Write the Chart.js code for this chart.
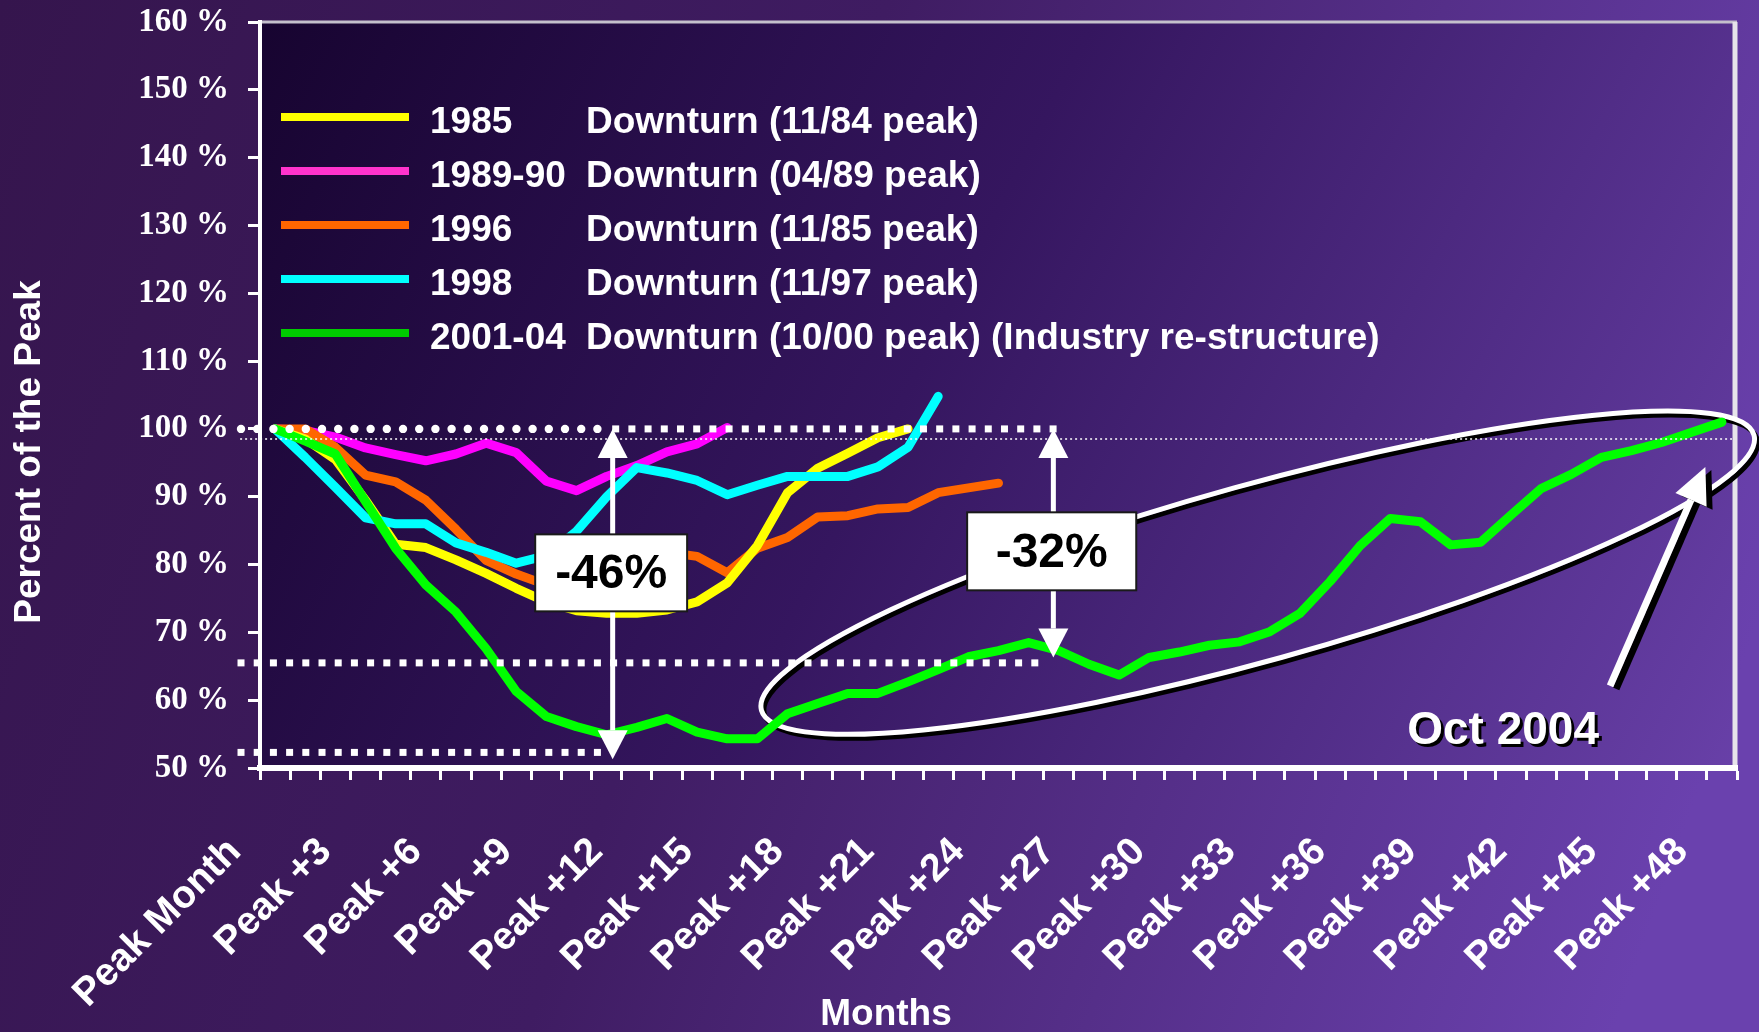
<!DOCTYPE html>
<html>
<head>
<meta charset="utf-8">
<title>Downturns - Percent of the Peak</title>
<script src="https://cdn.jsdelivr.net/npm/chart.js@4.4.1/dist/chart.umd.min.js"></script>
<style>
  html, body { margin: 0; padding: 0; background: #37174f; }
  #wrap { width: 1759px; height: 1032px; }
</style>
</head>
<body>
<div id="wrap"><canvas id="myChart" width="1759" height="1032"></canvas></div>
<script>
// months after the peak (one category per month)
const months = [
  'Peak Month', 'Peak +1', 'Peak +2', 'Peak +3', 'Peak +4', 'Peak +5', 'Peak +6', 'Peak +7',
  'Peak +8', 'Peak +9', 'Peak +10', 'Peak +11', 'Peak +12', 'Peak +13', 'Peak +14', 'Peak +15',
  'Peak +16', 'Peak +17', 'Peak +18', 'Peak +19', 'Peak +20', 'Peak +21', 'Peak +22', 'Peak +23',
  'Peak +24', 'Peak +25', 'Peak +26', 'Peak +27', 'Peak +28', 'Peak +29', 'Peak +30', 'Peak +31',
  'Peak +32', 'Peak +33', 'Peak +34', 'Peak +35', 'Peak +36', 'Peak +37', 'Peak +38', 'Peak +39',
  'Peak +40', 'Peak +41', 'Peak +42', 'Peak +43', 'Peak +44', 'Peak +45', 'Peak +46', 'Peak +47',
  'Peak +48'
];
// only every third month gets a label
const tickLabels = [
  'Peak Month', 'Peak +3', 'Peak +6', 'Peak +9', 'Peak +12', 'Peak +15', 'Peak +18', 'Peak +21',
  'Peak +24', 'Peak +27', 'Peak +30', 'Peak +33', 'Peak +36', 'Peak +39', 'Peak +42', 'Peak +45',
  'Peak +48'
];

const seriesYears = ['1985', '1989-90', '1996', '1998', '2001-04'];
const seriesNotes = [
  'Downturn (11/84 peak)',
  'Downturn (04/89 peak)',
  'Downturn (11/85 peak)',
  'Downturn (11/97 peak)',
  'Downturn (10/00 peak) (Industry re-structure)'
];

// percent of the peak, month by month
const d1985 = [100, 98.5, 95.5, 89.5, 83.0, 82.5, 80.7, 78.7, 76.5, 74.5, 73.2, 72.8, 72.8, 73.3,
  74.5, 77.3, 82.8, 90.6, 94.2, 96.4, 98.7, 100];
const d1989 = [100, 99.8, 98.8, 97.2, 96.2, 95.3, 96.3, 97.9, 96.5, 92.3, 90.9, 93.0, 94.6, 96.6,
  97.8, 100.2];
const d1996 = [100, 100, 97.3, 93.2, 92.2, 89.5, 85.2, 80.6, 78.6, 77.0, 76.0, 77.5, 79.5, 81.8,
  81.2, 78.8, 82.4, 84.0, 87.0, 87.2, 88.2, 88.4, 90.6, 91.3, 92.0];
const d1998 = [100, 95.8, 91.4, 86.9, 86.0, 86.0, 83.2, 81.8, 80.2, 81.3, 84.9, 90.0, 94.3, 93.5,
  92.4, 90.3, 91.7, 93.0, 93.0, 93.0, 94.4, 97.3, 104.8];
const d2001 = [100, 98.2, 96.3, 89.3, 82.4, 77.0, 73.0, 67.6, 61.3, 57.6, 56.1, 54.9, 56.0, 57.3,
  55.3, 54.3, 54.3, 58.0, 59.5, 61.0, 61.0, 62.7, 64.5, 66.4, 67.3, 68.5, 67.3, 65.3, 63.7, 66.3,
  67.1, 68.1, 68.6, 70.1, 72.8, 77.5, 82.8, 86.8, 86.3, 82.9, 83.3, 87.3, 91.2, 93.3, 95.8, 96.8,
  98.0, 99.5, 101.0];

const seriesColors = ['#ffff00', '#ff00ff', '#ff6600', '#00ffff', '#00ff00'];
const legendColors = ['#ffff00', '#ff33cc', '#ff6600', '#00ffff', '#00cc00'];
const drawOrder = [2, 4, 3, 1, 0];

const SANS = "'Liberation Sans', Arial, sans-serif";
const SERIF = "'Liberation Serif', 'Times New Roman', serif";

// background: page and plot area
const backdrop = {
  id: 'backdrop',
  beforeDraw(chart) {
    const { ctx, width, height, chartArea: a } = chart;
    ctx.save();
    let g = ctx.createLinearGradient(0, 0, width, height * 0.6);
    g.addColorStop(0, '#35154d');
    g.addColorStop(0.45, '#3f1c62');
    g.addColorStop(1, '#6a41ae');
    ctx.fillStyle = g;
    ctx.fillRect(0, 0, width, height);

    g = ctx.createLinearGradient(a.left, a.top, a.right, a.bottom);
    g.addColorStop(0, '#170430');
    g.addColorStop(0.45, '#35165f');
    g.addColorStop(1, '#6840a8');
    ctx.fillStyle = g;
    ctx.fillRect(a.left, a.top, a.right - a.left, a.bottom - a.top);

    // frame top and right
    ctx.strokeStyle = '#c4c0cc';
    ctx.lineWidth = 3;
    ctx.beginPath();
    ctx.moveTo(a.left, a.top);
    ctx.lineTo(a.right, a.top);
    ctx.stroke();
    ctx.strokeStyle = '#e6e4ea';
    ctx.lineWidth = 5;
    ctx.beginPath();
    ctx.moveTo(a.right - 2, a.top);
    ctx.lineTo(a.right - 2, a.bottom);
    ctx.stroke();
    ctx.restore();
  }
};

function dotRow(ctx, x0, x1, y, square) {
  ctx.fillStyle = '#ffffff';
  for (let x = x0; x <= x1 + 0.5; x += 16.2) {
    if (square) {
      ctx.fillRect(x - 3.5, y - 3.5, 7, 7);
    } else {
      ctx.beginPath();
      ctx.arc(x, y, 4.2, 0, Math.PI * 2);
      ctx.fill();
    }
  }
}

function doubleArrow(ctx, x, yTop, yBot) {
  const head = 29, half = 15;
  ctx.fillStyle = '#ffffff';
  ctx.strokeStyle = '#ffffff';
  ctx.lineWidth = 5;
  ctx.beginPath();
  ctx.moveTo(x, yTop + head);
  ctx.lineTo(x, yBot - head);
  ctx.stroke();
  ctx.beginPath();
  ctx.moveTo(x, yTop);
  ctx.lineTo(x - half, yTop + head);
  ctx.lineTo(x + half, yTop + head);
  ctx.closePath();
  ctx.fill();
  ctx.beginPath();
  ctx.moveTo(x, yBot);
  ctx.lineTo(x - half, yBot - head);
  ctx.lineTo(x + half, yBot - head);
  ctx.closePath();
  ctx.fill();
}

function labelBox(ctx, x0, y0, x1, y1, text) {
  ctx.fillStyle = '#ffffff';
  ctx.fillRect(x0, y0, x1 - x0, y1 - y0);
  ctx.strokeStyle = '#1a1a1a';
  ctx.lineWidth = 2;
  ctx.strokeRect(x0, y0, x1 - x0, y1 - y0);
  ctx.fillStyle = '#000000';
  ctx.font = 'bold 48px ' + SANS;
  ctx.textAlign = 'center';
  ctx.textBaseline = 'middle';
  ctx.fillText(text, (x0 + x1) / 2, (y0 + y1) / 2 + 2);
}

function slantArrow(ctx, x0, y0, x1, y1, color) {
  const ang = Math.atan2(y1 - y0, x1 - x0);
  const head = 36, half = 17;
  const bx = x1 - head * Math.cos(ang), by = y1 - head * Math.sin(ang);
  ctx.strokeStyle = color;
  ctx.fillStyle = color;
  ctx.lineWidth = 7;
  ctx.beginPath();
  ctx.moveTo(x0, y0);
  ctx.lineTo(bx, by);
  ctx.stroke();
  ctx.beginPath();
  ctx.moveTo(x1, y1);
  ctx.lineTo(bx + half * Math.sin(ang), by - half * Math.cos(ang));
  ctx.lineTo(bx - half * Math.sin(ang), by + half * Math.cos(ang));
  ctx.closePath();
  ctx.fill();
}

const notes = {
  id: 'notes',
  beforeDatasetsDraw(chart) {
    const { ctx } = chart;
    const xs = chart.scales.x, ys = chart.scales.y;
    // ellipse round the 2001-04 recovery
    const cx = xs.getPixelForValue(32.6), cy = ys.getPixelForValue(78.8);
    const rx = 515, ry = 88, rot = -15.5 * Math.PI / 180;
    ctx.save();
    ctx.lineWidth = 5;
    ctx.strokeStyle = '#000000';
    ctx.beginPath();
    ctx.ellipse(cx + 3, cy + 4, rx, ry, rot, 0, Math.PI * 2);
    ctx.stroke();
    ctx.strokeStyle = '#ffffff';
    ctx.beginPath();
    ctx.ellipse(cx, cy, rx, ry, rot, 0, Math.PI * 2);
    ctx.stroke();
    ctx.restore();
  },
  afterDatasetsDraw(chart) {
    const { ctx, chartArea: a } = chart;
    const xs = chart.scales.x, ys = chart.scales.y;
    const X = m => xs.getPixelForValue(m);
    const Y = v => ys.getPixelForValue(v);
    ctx.save();

    // thin dotted reference line
    ctx.strokeStyle = '#ffffff';
    ctx.lineWidth = 1.5;
    ctx.setLineDash([2, 3]);
    ctx.beginPath();
    ctx.moveTo(X(-1.16), Y(98.5));
    ctx.lineTo(a.right - 5, Y(98.5));
    ctx.stroke();
    ctx.setLineDash([]);

    dotRow(ctx, X(-1.13), X(10.98), Y(100), false);
    dotRow(ctx, X(11.3), X(25.8), Y(100), true);
    dotRow(ctx, X(-1.13), X(25.55), Y(65.5), true);
    dotRow(ctx, X(-1.13), X(10.9), Y(52.3), true);

    doubleArrow(ctx, X(11.2), Y(100), Y(51.3));
    doubleArrow(ctx, X(25.82), Y(100), Y(66.3));

    labelBox(ctx, X(8.63), Y(84.45), X(13.67), Y(73.1), '-46%');
    labelBox(ctx, X(22.96), Y(87.7), X(28.57), Y(76.2), '-32%');

    // Oct 2004 pointer
    const bx = X(44.29), by = Y(62.1), tx = X(47.45), ty = Y(94.4);
    slantArrow(ctx, bx + 6, by + 3, tx + 6, ty + 3, '#000000');
    slantArrow(ctx, bx, by, tx, ty, '#ffffff');

    ctx.font = 'bold 46px ' + SANS;
    ctx.textAlign = 'left';
    ctx.textBaseline = 'alphabetic';
    ctx.fillStyle = '#000000';
    ctx.fillText('Oct 2004', X(37.56) + 3, Y(53.6) + 3);
    ctx.fillStyle = '#ffffff';
    ctx.fillText('Oct 2004', X(37.56), Y(53.6));

    ctx.restore();
  },
  afterDraw(chart) {
    const { ctx, chartArea: a } = chart;
    ctx.save();
    // legend inside the plot
    ctx.font = 'bold 37px ' + SANS;
    ctx.textAlign = 'left';
    ctx.textBaseline = 'alphabetic';
    seriesYears.forEach((yr, i) => {
      const y = a.top + 95 + i * 54;
      ctx.fillStyle = legendColors[i];
      ctx.fillRect(a.left + 21, y - 4, 128, 8);
      ctx.fillStyle = '#ffffff';
      ctx.fillText(yr, a.left + 170, y + 16);
      ctx.fillText(seriesNotes[i], a.left + 326, y + 16);
    });

    // axis titles
    ctx.font = 'bold 37px ' + SANS;
    ctx.textAlign = 'center';
    ctx.fillText('Months', 886, 1025);
    ctx.translate(40, 452);
    ctx.rotate(-Math.PI / 2);
    ctx.fillText('Percent of the Peak', 0, 0);
    ctx.restore();
  }
};

const allSeries = [d1985, d1989, d1996, d1998, d2001];

const ctx = document.getElementById('myChart').getContext('2d');
const myChart = new Chart(ctx, {
  type: 'line',
  data: {
    labels: months,
    datasets: allSeries.map((vals, i) => ({
      label: seriesYears[i] + ' ' + seriesNotes[i],
      data: vals,
      borderColor: seriesColors[i],
      backgroundColor: seriesColors[i],
      borderWidth: 9,
      borderCapStyle: 'round',
      borderJoinStyle: 'round',
      pointRadius: 0,
      tension: 0,
      fill: false,
      order: drawOrder[i]
    }))
  },
  options: {
    responsive: false,
    animation: false,
    devicePixelRatio: 1,
    layout: { padding: { left: 0, right: 22, top: 22, bottom: 0 } },
    plugins: {
      legend: { display: false },
      tooltip: { enabled: false }
    },
    scales: {
      x: {
        type: 'category',
        offset: true,
        grid: {
          offset: true,
          drawOnChartArea: false,
          drawTicks: true,
          tickLength: 12,
          tickWidth: 3,
          tickColor: '#ffffff'
        },
        border: { display: true, color: '#ffffff', width: 6 },
        ticks: {
          autoSkip: false,
          minRotation: 45,
          maxRotation: 45,
          padding: 49,
          labelOffset: -40,
          color: '#ffffff',
          font: { family: SANS, weight: 'bold', size: 39 },
          callback: (v, i) => (i % 3 === 0 ? tickLabels[i / 3] : '')
        },
        afterFit: s => { s.height = 264; s.paddingLeft = 0; s.paddingRight = 0; }
      },
      y: {
        min: 50,
        max: 160,
        grid: {
          drawOnChartArea: false,
          drawTicks: true,
          tickLength: 12,
          tickWidth: 3,
          tickColor: '#ffffff'
        },
        border: { display: true, color: '#ffffff', width: 4 },
        ticks: {
          stepSize: 10,
          padding: 19,
          color: '#ffffff',
          font: { family: SERIF, weight: 'bold', size: 33 },
          callback: v => v + ' %'
        },
        afterFit: s => { s.width = 260; s.paddingTop = 0; s.paddingBottom = 0; }
      }
    }
  },
  plugins: [backdrop, notes]
});
</script>
</body>
</html>
